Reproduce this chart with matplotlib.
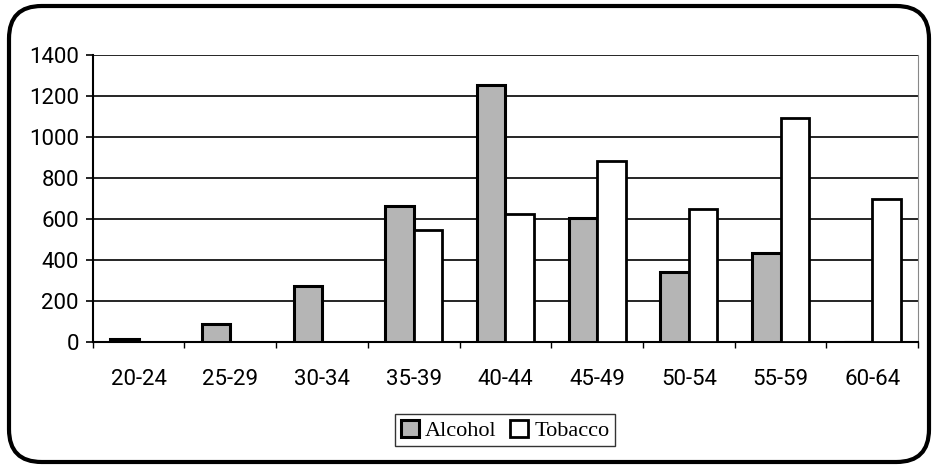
import matplotlib
matplotlib.use("Agg")
import matplotlib.pyplot as plt
import numpy as np
from matplotlib.patches import FancyBboxPatch

categories = ["20-24", "25-29", "30-34", "35-39", "40-44", "45-49", "50-54", "55-59", "60-64"]
alcohol = [15, 85, 270, 662, 1252, 605, 338, 435, 0]
tobacco = [0, 0, 0, 545, 625, 882, 650, 1090, 697]
yticks = [0, 200, 400, 600, 800, 1000, 1200, 1400]

fig = plt.figure(figsize=(9.33, 4.66), dpi=100)
ax = fig.add_axes([0.0994, 0.2667, 0.8846, 0.6153])

x = np.arange(len(categories))
w = 0.31
ax.bar(x - w / 2, alcohol, width=w, color="#b5b5b5", edgecolor="black", linewidth=2.2,
       label="Alcohol", zorder=3)
ax.bar(x + w / 2, tobacco, width=w, color="white", edgecolor="black", linewidth=2.0,
       label="Tobacco", zorder=3)

ax.set_xlim(-0.5, len(categories) - 0.5)
ax.set_ylim(0, 1400)
ax.set_yticks(yticks)
ax.set_xticks(x)
ax.set_xticklabels(categories)
ax.set_xticks(np.arange(-0.5, len(categories), 1.0), minor=True)
ax.tick_params(axis="x", which="major", length=0, pad=20)
ax.tick_params(axis="x", which="minor", length=4, width=1, direction="out")
ax.tick_params(axis="y", length=5, width=1.2, direction="out", pad=5)
for lab in ax.get_xticklabels() + ax.get_yticklabels():
    lab.set_family("Roboto")
    lab.set_fontsize(16)

ax.yaxis.grid(True, color="black", linewidth=1.2, zorder=1)
ax.set_axisbelow(True)
ax.spines["top"].set_visible(False)
ax.spines["right"].set_color("#888888")
ax.spines["right"].set_linestyle((0, (1, 1)))
ax.spines["left"].set_linewidth(1.5)
ax.spines["bottom"].set_linewidth(1.5)

leg = fig.legend(loc="center", ncol=2,
                 prop={"family": "Liberation Serif", "size": 16},
                 frameon=True, fancybox=False, edgecolor="black",
                 handlelength=0.8, handleheight=0.8, handletextpad=0.3,
                 columnspacing=0.6, borderpad=0.25, borderaxespad=0)
leg.get_frame().set_linewidth(1.0)
leg.set_bbox_to_anchor((0.5416, 0.077), transform=fig.transFigure)

frame = FancyBboxPatch((9 / 933, 4 / 466), 920 / 933, 456 / 466,
                       boxstyle="round,pad=0,rounding_size=0.035",
                       transform=fig.transFigure, fill=False,
                       edgecolor="black", linewidth=3, mutation_aspect=2.0)
fig.patches.append(frame)

fig.savefig("out.png", dpi=100)
